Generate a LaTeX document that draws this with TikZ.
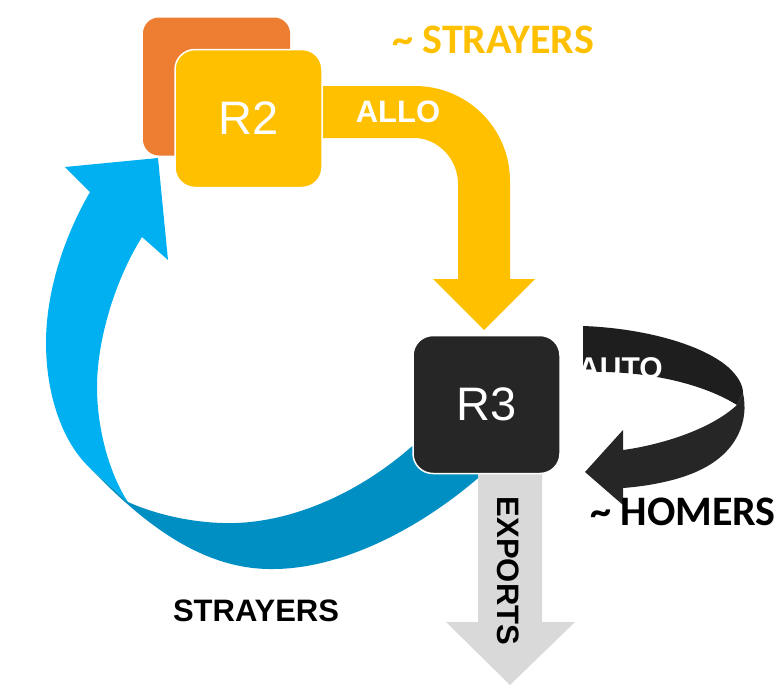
\documentclass[tikz,border=0pt]{standalone}
\usepackage{fontspec}
\setmainfont{Liberation Sans}
\newfontfamily\calfont{Carlito}
\definecolor{rgold}{HTML}{FFC000}
\definecolor{rorange}{HTML}{ED7D31}
\definecolor{rblue}{HTML}{00B0F0}
\definecolor{rdblue}{HTML}{008FC2}
\definecolor{rblack}{HTML}{262626}
\definecolor{rtop}{HTML}{1E1E1E}
\definecolor{rgrey}{HTML}{D9D9D9}
\usetikzlibrary{positioning}

\tikzset{
  regbox/.style={rectangle, rounded corners=20pt, minimum width=147pt, minimum height=138pt, draw=white, line width=1.5pt, text=white, font=\fontsize{47}{50}\selectfont},
  lbl/.style={font=\bfseries\fontsize{31}{34}\selectfont, inner sep=0pt},
  callbl/.style={font=\calfont\bfseries\fontsize{42}{44}\selectfont, inner sep=0pt}
}

\begin{document}
\begin{tikzpicture}[x=1pt,y=-1pt]
  \useasboundingbox (0,0) rectangle (781,691);

  % blue return arrow, back face then front face
  \fill[rdblue] (90,468) .. controls (140,520) and (200,570) .. (273,569)
    .. controls (340,569) and (420,530) .. (485,472) -- (500,455) -- (420,440)
    -- (410,448) .. controls (350,500) and (280,525) .. (223,523)
    .. controls (185,522) and (150,512) .. (128,502) -- cycle;
  \fill[rblue] (90,192) -- (65,167) -- (158,158) -- (168,260) -- (142,237)
    .. controls (115,280) and (97,340) .. (97,387)
    .. controls (97,430) and (110,475) .. (128,502) -- (90,468)
    .. controls (60,440) and (46,390) .. (46,343)
    .. controls (46,290) and (65,235) .. (90,192) -- cycle;

  % exports arrow
  \fill[rgrey] (478,460) -- (542,460) -- (542,622) -- (575,622) -- (510,685) -- (446,622) -- (478,622) -- cycle;
  \node[lbl, rotate=-90] (exports) at (508,571) {EXPORTS};

  \node[regbox, fill=rblack] (r3) at (486.5,404.5) {R3};

  % allo arrow
  \fill[rgold] (315,86) -- (415,86) .. controls (467,86) and (510,128) .. (510,181)
    -- (510,279) -- (535,279) -- (484,330) -- (433,279) -- (458,279) -- (458,184)
    .. controls (458,159) and (438,138) .. (414,138) -- (315,138) -- cycle;
  \node[lbl, text=white] (allo) at (398,112) {ALLO};

  \node[regbox, rounded corners=16pt, fill=rorange, draw=none] (r1) at (216.5,86.5) {};
  \node[regbox, fill=rgold] (r2) at (248.5,118.5) {R2};

  % auto loop
  \fill[rblack] (585,472) -- (623,430) -- (623,450) .. controls (660,445) and (710,430) .. (737,405)
    -- (743,393) .. controls (749,420) and (738,452) .. (700,470)
    .. controls (680,480) and (650,486) .. (623,488) -- (623,505) -- cycle;
  \begin{scope}
    \path[clip] (583,326) .. controls (640,328) and (700,343) .. (728,367)
      .. controls (738,376) and (743,385) .. (743,393) -- (737,405)
      .. controls (705,385) and (650,370) .. (583,372) -- cycle;
    \fill[rtop] (575,320) rectangle (750,410);
    \node[lbl, text=white, anchor=base west, font=\bfseries\fontsize{30}{32}\selectfont] (auto) at (578,378) {AUTO};
  \end{scope}

  \node[callbl, text=rgold] (strayt) at (493,40) {\textasciitilde{} STRAYERS};
  \node[callbl, text=black] (homers) at (683,512) {\textasciitilde{} HOMERS};
  \node[lbl] (strayb) at (256,611) {STRAYERS};
\end{tikzpicture}
\end{document}
